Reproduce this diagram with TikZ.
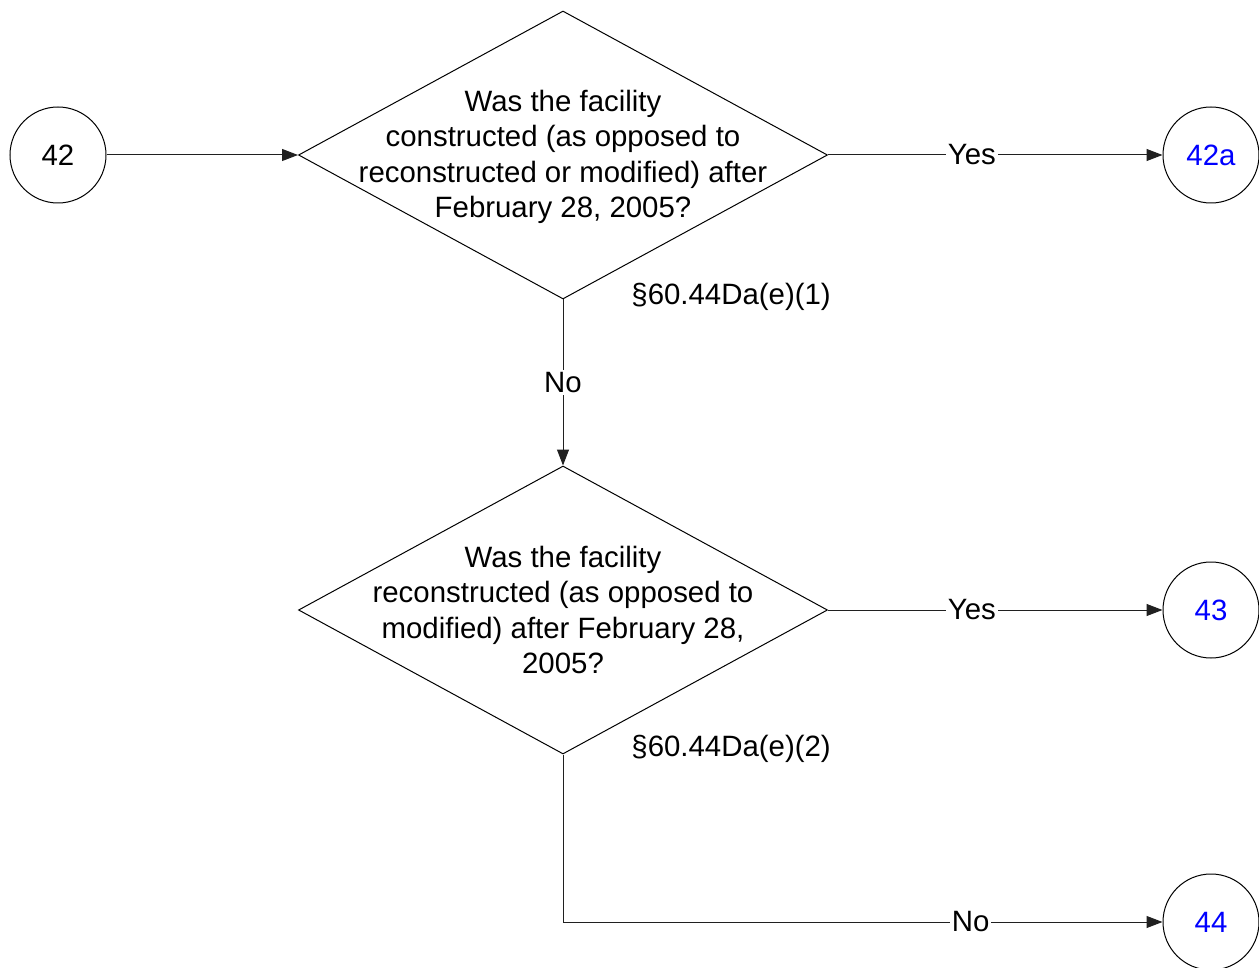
\documentclass[tikz,border=0pt]{standalone}
\usepackage{fontspec}
\setmainfont{Liberation Sans}
\usetikzlibrary{arrows.meta,positioning,shapes.geometric}
\definecolor{linkblue}{HTML}{0000FF}
\definecolor{linegray}{HTML}{202020}
\tikzset{
  decision/.style={
    diamond,
    draw=black,
    line width=0.5pt,
    minimum width=264.5pt,
    minimum height=144pt,
    inner sep=0pt
  },
  decisiontext/.style={
    align=center,
    inner sep=0pt,
    font=\fontsize{14.7}{17.6}\selectfont
  },
  connector/.style={
    circle,
    draw=black,
    line width=0.5pt,
    minimum size=48pt,
    inner sep=0pt,
    font=\fontsize{14.7}{17.6}\selectfont
  },
  lbl/.style={
    fill=white,
    inner sep=1pt,
    font=\fontsize{14.7}{17.6}\selectfont
  },
  reflbl/.style={
    anchor=west,
    inner sep=0pt,
    font=\fontsize{14.7}{17.6}\selectfont
  },
  flowarrow/.style={
    -{Triangle[length=8pt,width=6pt]},
    line width=0.5pt,
    draw=linegray
  }
}

\begin{document}
\begin{tikzpicture}[x=0.5pt,y=-0.5pt]
\useasboundingbox (0,0) rectangle (1259,968);
% start connector and first question
\node[connector] (c42) at (58,155) {42};
\node[decision] (q1) at (563,155) {};
\node[decisiontext] (q1text) at ([yshift=-1pt]q1.center) {Was the facility\\constructed (as opposed to\\reconstructed or modified) after\\February 28, 2005?};
\node[reflbl] (ref1) at (631,297) {\S60.44Da(e)(1)};
\node[connector, text=linkblue] (c42a) at (1211,155) {42a};
% second question
\node[decision] (q2) at (563,610) {};
\node[decisiontext] (q2text) at (q2.center) {Was the facility\\reconstructed (as opposed to\\modified) after February 28,\\2005?};
\node[reflbl] (ref2) at (631,749) {\S60.44Da(e)(2)};
\node[connector, text=linkblue] (c43) at (1211,610) {43};
\node[connector, text=linkblue] (c44) at (1211,922) {44};
\coordinate (bend) at (q2.south |- c44.west);
% arrows
\draw[flowarrow] (c42) -- (q1.west);
\draw[flowarrow] (q1.east) -- node[lbl, pos=0.43] (yes1) {Yes} (c42a);
\draw[flowarrow] (q1.south) -- node[lbl] (no1) {No} (q2.north);
\draw[flowarrow] (q2.east) -- node[lbl, pos=0.43] (yes2) {Yes} (c43);
\draw[flowarrow] (q2.south) -- (bend) -- node[lbl, pos=0.68] (no2) {No} (c44.west);
\end{tikzpicture}
\end{document}
